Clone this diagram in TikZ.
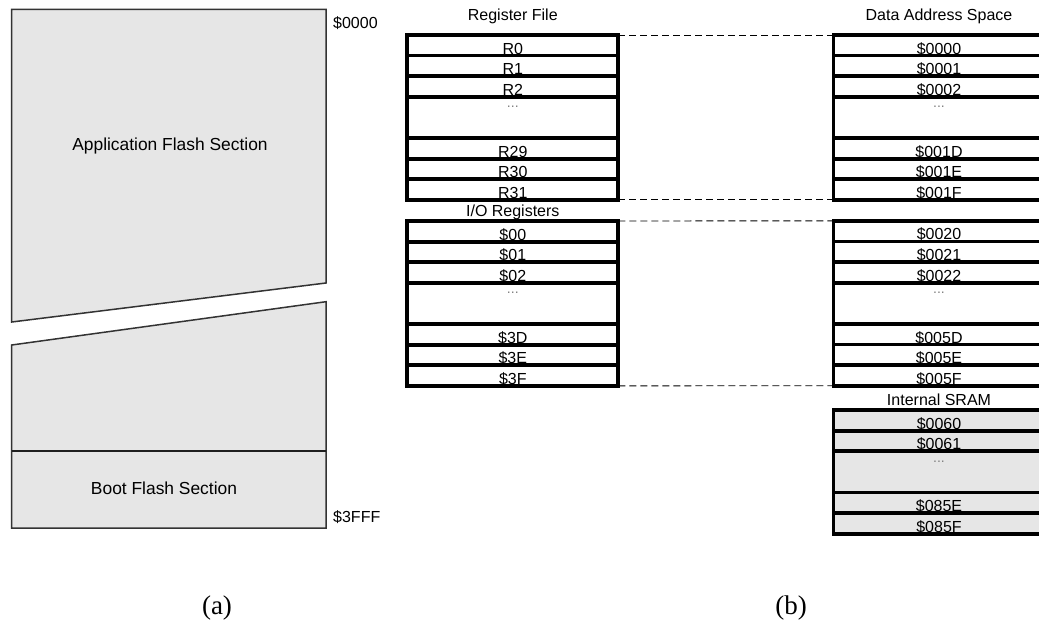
\documentclass[tikz,border=0pt]{standalone}
\usepackage{fontspec}
\setmainfont{Liberation Sans}
\newfontfamily\capfont{Liberation Serif}
\usetikzlibrary{positioning}
\definecolor{flashgray}{HTML}{E6E6E6}
\definecolor{edgegray}{HTML}{333333}
\tikzset{
  memrow/.style={
    rectangle, draw=black, fill=#1, line width=3.8pt,
    minimum width=211pt, inner sep=0pt, outer sep=0pt,
    text height=19.1pt, text depth=1.5pt,
    font=\fontsize{16}{16}\selectfont
  },
  memrow/.default=white,
  gaprow/.style={
    memrow=#1, text height=11pt, text depth=30.25pt,
    text=gray, font=\fontsize{14}{14}\selectfont
  },
  gaprow/.default=white,
  flashbox/.style={draw=edgegray, fill=flashgray, line width=1.5pt, line join=miter},
  titlelbl/.style={font=\fontsize{16}{16}\selectfont, anchor=base, inner sep=0pt},
  addrlbl/.style={font=\fontsize{16}{16}\selectfont, anchor=base west, inner sep=0pt},
  sectionlbl/.style={font=\fontsize{17.4}{17.4}\selectfont, anchor=base, inner sep=0pt},
  caplbl/.style={font=\capfont\fontsize{27}{27}\selectfont, anchor=base, inner sep=0pt},
  maplink/.style={dash pattern=on 7pt off 4pt, line width=0.9pt, black}
}

\begin{document}
\begin{tikzpicture}[x=1pt, y=-1pt]
\useasboundingbox (0,0) rectangle (1039,623);

% (a) Flash program memory
\draw[flashbox] (11.7,9.3) -- (326,9.3) -- (326,283) -- (11.7,322) -- cycle;
\draw[flashbox] (11.7,345) -- (326,301.7) -- (326,528) -- (11.7,528) -- cycle;
\draw[edgegray!60!black, line width=2pt] (11.7,451) -- (326,451);
\node[sectionlbl] (app) at (170,150.7) {Application Flash Section};
\node[sectionlbl] (boot) at (164,494.3) {Boot Flash Section};
\node[addrlbl] (flashtop) at (333,29) {\$0000};
\node[addrlbl] (flashend) at (333,522) {\$3FFF};

% (b) Register file
\node[titlelbl] (rftitle) at (512.8,21) {Register File};
\node[memrow, below=14pt of rftitle.base] (r0) {R0};
\node[memrow, below=0pt of r0] (r1) {R1};
\node[memrow, below=0pt of r1] (r2) {R2};
\node[gaprow, below=0pt of r2] (rdots) {...};
\node[memrow, below=0pt of rdots] (r29) {R29};
\node[memrow, below=0pt of r29] (r30) {R30};
\node[memrow, below=0pt of r30] (r31) {R31};

% I/O registers
\node[titlelbl] (iotitle) at (512.8,216.7) {I/O Registers};
\node[memrow, below=4.3pt of iotitle.base] (io00) {\$00};
\node[memrow, below=0pt of io00] (io01) {\$01};
\node[memrow, below=0pt of io01] (io02) {\$02};
\node[gaprow, below=0pt of io02] (iodots) {...};
\node[memrow, below=0pt of iodots] (io3D) {\$3D};
\node[memrow, below=0pt of io3D] (io3E) {\$3E};
\node[memrow, below=0pt of io3E] (io3F) {\$3F};

% Data address space
\node[titlelbl] (dtitle) at (939,21) {Data Address Space};
\node[memrow, below=14pt of dtitle.base] (d0000) {\$0000};
\node[memrow, below=0pt of d0000] (d0001) {\$0001};
\node[memrow, below=0pt of d0001] (d0002) {\$0002};
\node[gaprow, below=0pt of d0002] (ddots1) {...};
\node[memrow, below=0pt of ddots1] (d001D) {\$001D};
\node[memrow, below=0pt of d001D] (d001E) {\$001E};
\node[memrow, below=0pt of d001E] (d001F) {\$001F};

\node[memrow, below=21pt of d001F] (d0020) {\$0020};
\node[memrow, below=0pt of d0020] (d0021) {\$0021};
\node[memrow, below=0pt of d0021] (d0022) {\$0022};
\node[gaprow, below=0pt of d0022] (ddots2) {...};
\node[memrow, below=0pt of ddots2] (d005D) {\$005D};
\node[memrow, below=0pt of d005D] (d005E) {\$005E};
\node[memrow, below=0pt of d005E] (d005F) {\$005F};

% Internal SRAM
\node[titlelbl] (sramtitle) at (939,405) {Internal SRAM};
\node[memrow=flashgray, below=5pt of sramtitle.base] (s0060) {\$0060};
\node[memrow=flashgray, below=0pt of s0060] (s0061) {\$0061};
\node[gaprow=flashgray, below=0pt of s0061] (sdots) {...};
\node[memrow=flashgray, below=0pt of sdots] (s085E) {\$085E};
\node[memrow=flashgray, below=0pt of s085E] (s085F) {\$085F};

% Mapping lines
\draw[maplink] (r0.north east) -- (d0000.north west);
\draw[maplink] (r31.south east) -- (d001F.south west);
\draw[maplink] (io00.north east) -- (d0020.north west);
\draw[maplink] (io3F.south east) -- (d005F.south west);

% Captions
\node[caplbl] (capa) at (217,614) {(a)};
\node[caplbl] (capb) at (791,614) {(b)};

\end{tikzpicture}
\end{document}
